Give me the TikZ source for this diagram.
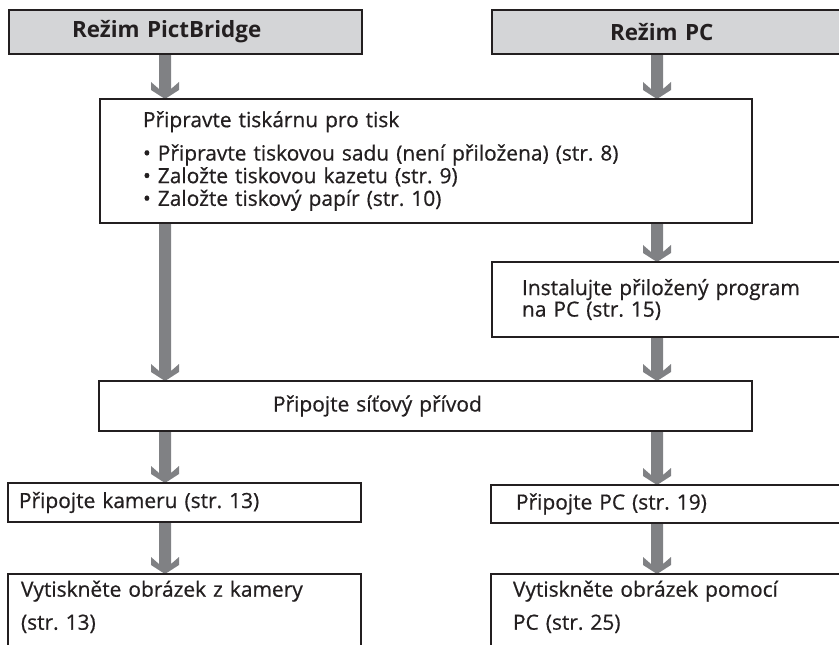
\documentclass[tikz,border=0pt]{standalone}
\usepackage{fontspec}
\setmainfont{Open Sans}[UprightFeatures={FakeBold=0.6}]
\usetikzlibrary{calc,backgrounds}
\definecolor{ink}{HTML}{231F20}
\definecolor{titlefill}{HTML}{D4D5D7}
\definecolor{arrowgray}{HTML}{808184}
\frenchspacing
\tikzset{
  boxtext/.style={text=ink, font=\frenchspacing\fontsize{15.7}{17}\selectfont},
  box/.style={boxtext, draw=ink, line width=1.6pt, fill=white, anchor=north west,
    align=left, inner ysep=0pt, outer sep=0pt},
  titlebox/.style={draw=ink, line width=2pt, fill=titlefill, anchor=north west,
    align=left, inner ysep=0pt, outer sep=0pt, text=ink,
    font=\bfseries\fontsize{16.8}{18}\selectfont},
  flow/.style={fill=arrowgray, to path={
    ($(\tikztostart)+(-6,0)$) -- ($(\tikztotarget)+(-6,-10)$)
    -- ($(\tikztotarget)+(-14,-17)$) -- ($(\tikztotarget)+(-14,-9)$)
    -- (\tikztotarget)
    -- ($(\tikztotarget)+(14,-9)$) -- ($(\tikztotarget)+(14,-17)$)
    -- ($(\tikztotarget)+(6,-10)$) -- ($(\tikztostart)+(6,0)$) -- cycle}}
}
\begin{document}
\begin{tikzpicture}[x=0.75pt,y=-0.75pt]
\useasboundingbox (0,0) rectangle (839,645);
\clip (0,0) rectangle (839,645);

% top mode boxes
\node[titlebox, text width=170.25pt, inner xsep=47.25pt, minimum height=33pt] (pb) at (9,10)
  {Režim PictBridge};
\node[titlebox, text width=99pt, inner xsep=88.5pt, minimum height=33pt] (pc) at (492,10)
  {Režim PC};

% preparation
\node[box, text width=424.5pt, inner xsep=32.25pt, minimum height=93pt] (prep) at (100,99)
  {Připravte tiskárnu pro tisk\\[8pt]
   • Připravte tiskovou sadu (není přiložena) (str. 8)\\
   • Založte tiskovou kazetu (str. 9)\\
   • Založte tiskový papír (str. 10)};

% install software
\node[box, text width=247.5pt, inner xsep=22.5pt, minimum height=56.25pt,
  font=\frenchspacing\fontsize{15.7}{15}\selectfont] (inst) at (492,262)
  {Instalujte přiložený program\\ na PC (str. 15)};

% power cord
\node[box, text width=228.75pt, inner xsep=130.5pt, minimum height=37.5pt] (net) at (99,381)
  {Připojte síťový přívod};

% connect
\node[box, text width=248.25pt, inner xsep=8.25pt, minimum height=29.25pt] (cam) at (8,483)
  {Připojte kameru (str. 13)};
\node[box, text width=247.5pt, inner xsep=18.75pt, minimum height=28.5pt] (pcc) at (491,485)
  {Připojte PC (str. 19)};

% print
\node[box, text width=245.25pt, inner xsep=9.75pt, inner ysep=5pt, text depth=60pt,
  font=\frenchspacing\fontsize{15.7}{24.75}\selectfont] (prl) at (8,574)
  {Vytiskněte obrázek z kamery\\ (str. 13)};
\node[box, text width=247.5pt, inner xsep=16.5pt, inner ysep=5pt, text depth=60pt,
  font=\frenchspacing\fontsize{15.7}{24.75}\selectfont] (prr) at (491,574)
  {Vytiskněte obrázek pomocí\\ PC (str. 25)};

\coordinate (colL) at (165,0);
\coordinate (colR) at (657,0);

\begin{scope}[on background layer]
\path[flow] (pb.south -| colL) to (prep.north -| colL);
\path[flow] (prep.south -| colL) to (net.north -| colL);
\path[flow] (net.south -| colL) to (cam.north -| colL);
\path[flow] (cam.south -| colL) to (prl.north -| colL);
\path[flow] (pc.south -| colR) to (prep.north -| colR);
\path[flow] (prep.south -| colR) to (inst.north -| colR);
\path[flow] (inst.south -| colR) to (net.north -| colR);
\path[flow] (net.south -| colR) to (pcc.north -| colR);
\path[flow] (pcc.south -| colR) to (prr.north -| colR);
\end{scope}
\end{tikzpicture}
\end{document}
